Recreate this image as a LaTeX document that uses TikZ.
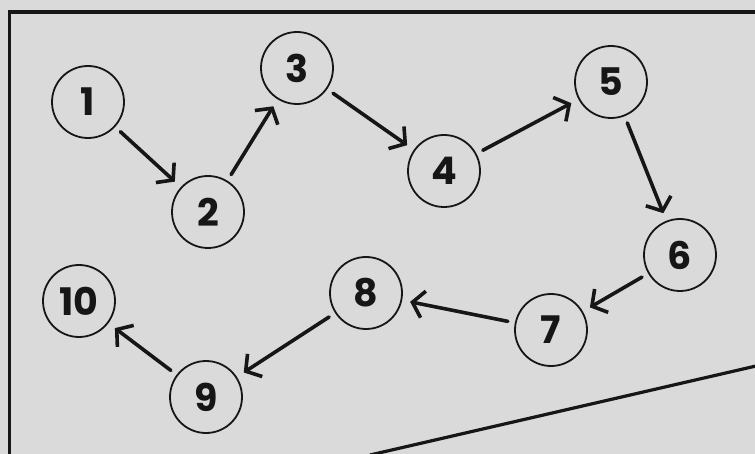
\documentclass[tikz,border=0pt]{standalone}
\usepackage{fontspec}
\setmainfont{Poppins}
\usetikzlibrary{arrows.meta}
\definecolor{paper}{HTML}{DADADA}
\definecolor{ink}{HTML}{161616}
\tikzset{
  evnode/.style={circle, draw=ink, line width=1.8pt, minimum size=72pt, inner sep=0pt, outer sep=0pt,
    font=\fontsize{38}{38}\selectfont\bfseries, text=ink},
  flow/.style={draw=ink, line width=3.6pt, line cap=round,
    -{Straight Barb[length=11pt, width=27pt, line width=3.6pt]},
    shorten <=8pt, shorten >=9pt},
  frame/.style={draw=ink, line width=3.8pt}
}
\begin{document}
\begin{tikzpicture}[x=1pt, y=-1pt]
\fill[paper] (0,0) rectangle (755,454);
\useasboundingbox (0,0) rectangle (755,454);
% frame
\coordinate (tl) at (9.5,12);
\coordinate (tr) at (755,12);
\coordinate (bl) at (9.5,454);
\coordinate (d1) at (370,455);
\coordinate (d2) at (756,366);
\draw[frame] (tr) -- (tl) -- (bl);
\draw[frame, line width=3.2pt] (d1) -- (d2);
% nodes
\node[evnode] (n1) at (88,102) {1};
\node[evnode] (n2) at (208,212) {2};
\node[evnode] (n3) at (297,68) {3};
\node[evnode] (n4) at (444,171) {4};
\node[evnode] (n5) at (611,82) {5};
\node[evnode] (n6) at (680,255) {6};
\node[evnode] (n7) at (551,330) {7};
\node[evnode] (n8) at (366,293) {8};
\node[evnode] (n9) at (206,397) {9};
\node[evnode] (n10) at (79,301) {10};
% connectors
\draw[flow] (n1) -- (n2);
\draw[flow] (n2) -- (n3);
\draw[flow] (n3) -- (n4);
\draw[flow] (n4) -- (n5);
\draw[flow] (n5) -- (n6);
\draw[flow] (n6) -- (n7);
\draw[flow] (n7) -- (n8);
\draw[flow] (n8) -- (n9);
\draw[flow] (n9) -- (n10);
\end{tikzpicture}
\end{document}
